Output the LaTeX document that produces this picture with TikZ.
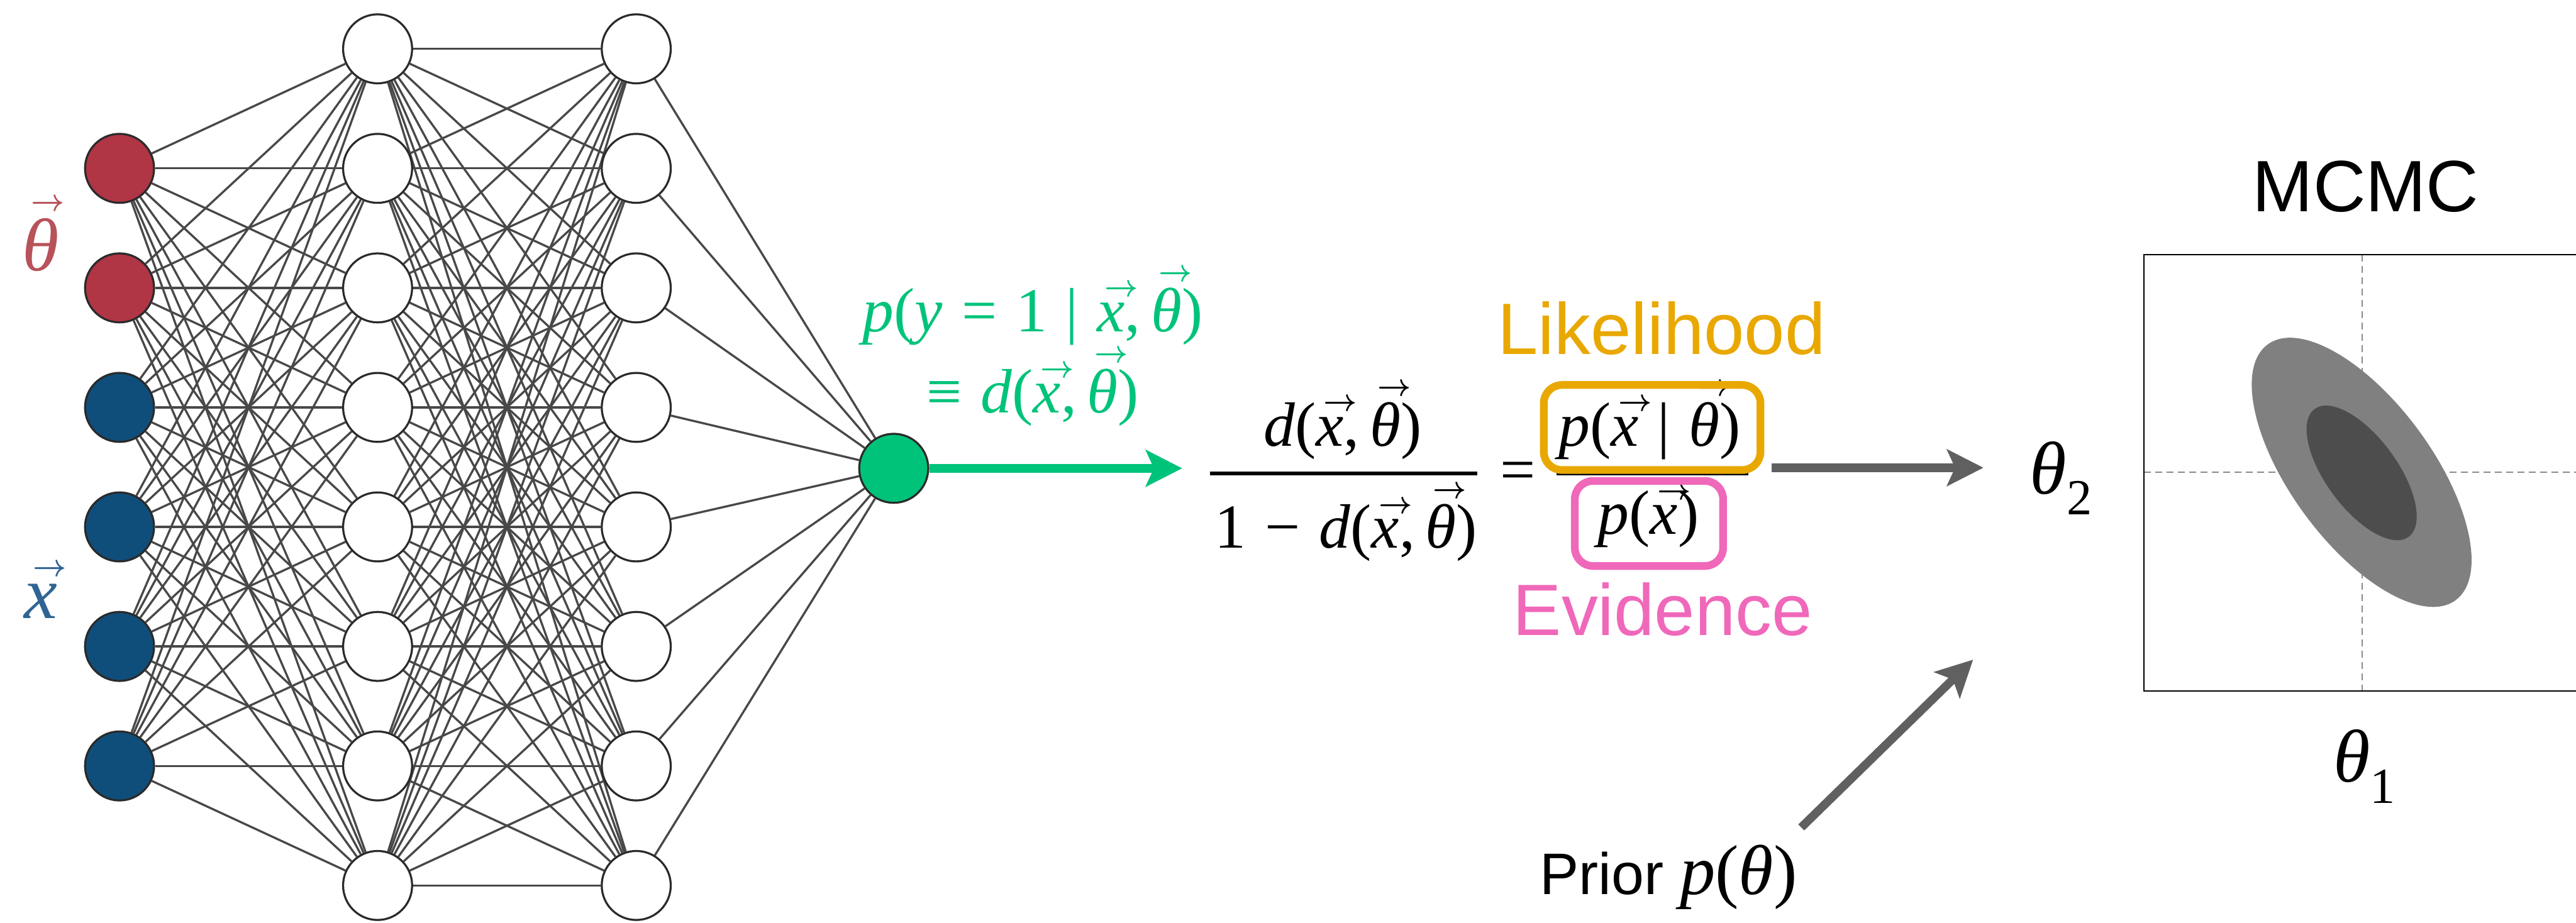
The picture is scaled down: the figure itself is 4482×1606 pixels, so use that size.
\documentclass[tikz,border=0pt]{standalone}
\usepackage{graphicx}
\usepackage{fontspec}
\setmainfont{Liberation Serif}
\newfontfamily\sansf{Liberation Sans}
\usetikzlibrary{arrows.meta,backgrounds}
\newcommand\mi[1]{\textit{#1}}
\newcommand\vv[1]{\setbox0\hbox{\itshape #1}\leavevmode\rlap{\hbox to \wd0{\hfil\kern0.12em\raisebox{\dimexpr\ht0+0.1em\relax}{\scalebox{0.58}[0.62]{\boldmath$\rightarrow$}}\hfil}}\box0}
\newcommand\sps{\hspace{0.3em}}
\newcommand\subdigit[1]{\raisebox{-0.28em}{\fontsize{25}{30}\selectfont #1}}
\definecolor{edgegray}{HTML}{484848}
\definecolor{nodeline}{HTML}{2A2A2A}
\definecolor{thetared}{HTML}{B03545}
\definecolor{xblue}{HTML}{0F4E7B}
\definecolor{thetalab}{HTML}{B8525A}
\definecolor{xlab}{HTML}{2F6494}
\definecolor{outgreen}{HTML}{00C37A}
\definecolor{likeorange}{HTML}{E9A800}
\definecolor{evipink}{HTML}{F068BA}
\definecolor{arrowgray}{HTML}{606060}
\definecolor{outerell}{HTML}{808080}
\definecolor{innerell}{HTML}{4D4D4D}
\definecolor{dashgray}{HTML}{8A8A8A}
\begin{document}
\begin{tikzpicture}[x=0.01cm,y=-0.01cm,
  neuron/.style={circle,draw=nodeline,line width=1pt,minimum size=1.2cm,inner sep=0pt,fill=white},
  edge/.style={draw=edgegray,line width=1.05pt},
  txt/.style={inner sep=0pt,anchor=base},
  mathbig/.style={font=\fontsize{31}{37}\selectfont},
  mathhuge/.style={font=\fontsize{37}{42}\selectfont},
  sanslab/.style={font=\fontsize{36}{42}\selectfont\sansf},
  fracbar/.style={line width=2.1pt,draw=black},
  bigarrow/.style={line width=4.2pt,-{Stealth[length=18pt,width=18pt,inset=4pt]}},
  hlbox/.style={line width=3.8pt,rounded corners=9pt}
]
\useasboundingbox (0,0) rectangle (4482,1606);

% ---------- network nodes ----------
\foreach \k/\c in {1/thetared,2/thetared,3/xblue,4/xblue,5/xblue,6/xblue}
  \node[neuron,fill=\c] (i\k) at (208,{293+208*(\k-1)}) {};
\foreach \k in {1,...,8}
  \node[neuron] (a\k) at (657,{85+208*(\k-1)}) {};
\foreach \k in {1,...,8}
  \node[neuron] (b\k) at (1107,{85+208*(\k-1)}) {};
\node[neuron,fill=outgreen] (o) at (1555,815) {};

% ---------- network edges ----------
\begin{scope}[on background layer]
  \fill[white] (0,0) rectangle (4482,1606);
  \foreach \i in {1,...,6}
    \foreach \j in {1,...,8}
      \draw[edge] (i\i) -- (a\j);
  \foreach \i in {1,...,8}
    \foreach \j in {1,...,8}
      \draw[edge] (a\i) -- (b\j);
  \foreach \i in {1,...,8}
    \draw[edge] (b\i) -- (o);
\end{scope}

% ---------- input labels ----------
\node[txt,mathhuge,text=thetalab] (thlab) at (71,471) {\vv{θ}};
\node[txt,mathhuge,text=xlab] (xlabel) at (71,1076) {\vv{x}};

% ---------- output label ----------
\node[txt,mathbig,text=outgreen] (g1) at (1797,577) {\mi{p}(\mi{y}\sps=\sps1\sps|\sps\vv{x},\,\vv{θ})};
\node[txt,mathbig,text=outgreen] (g2) at (1797,718) {≡\sps\mi{d}(\vv{x},\,\vv{θ})};
\coordinate (gend) at (2057,815);
\draw[bigarrow,draw=outgreen,fill=outgreen] (o) -- (gend);

% ---------- left fraction ----------
\node[txt,mathbig] (lnum) at (2336,776) {\mi{d}(\vv{x},\,\vv{θ})};
\node[txt,mathbig] (lden) at (2342,954) {1\sps−\sps\mi{d}(\vv{x},\,\vv{θ})};
\coordinate (lbarL) at (2105,824);
\coordinate (lbarR) at (2570,824);
\draw[fracbar] (lbarL) -- (lbarR);
\node[mathbig,inner sep=0pt] (eq) at (2641,829) {=};

% ---------- right fraction ----------
\node[txt,mathbig] (rnum) at (2870,776) {\mi{p}(\vv{x}\sps|\sps\vv{θ})};
\node[txt,mathbig] (rden) at (2868,930) {\mi{p}(\vv{x})};
\coordinate (rbarL) at (2708,824);
\coordinate (rbarR) at (3042,824);
\draw[fracbar] (rbarL) -- (rbarR);
\draw[hlbox,draw=likeorange] (2686,670) rectangle (3063,818);
\draw[hlbox,draw=evipink] (2740,837) rectangle (2998,985);
\node[txt,sanslab,text=likeorange] (like) at (2891,617) {Likelihood};
\node[txt,sanslab,text=evipink] (evi) at (2893,1106) {Evidence};

% ---------- arrows to posterior ----------
\coordinate (hstart) at (3082,814);
\node[txt,mathhuge] (th2) at (3586,859) {\mi{θ}\subdigit{2}};
\coordinate (hend) at (3451,814);
\draw[bigarrow,draw=arrowgray,fill=arrowgray] (hstart) -- (hend);
\node[txt] (prior) at (2903,1557) {{\fontsize{29}{35}\selectfont\sansf Prior\hspace{0.28em}}{\fontsize{35}{40}\selectfont\mi{p}(\mi{θ})}};
\coordinate (dstart) at (3134,1440);
\coordinate (dend) at (3433,1148);
\draw[bigarrow,draw=arrowgray,fill=arrowgray] (dstart) -- (dend);

% ---------- MCMC plot ----------
\node[txt,sanslab] (mcmc) at (4116,368) {MCMC};
\draw[dashgray,line width=0.7pt,dash pattern=on 3.4pt off 2.2pt] (4110,443) -- (4110,1203);
\draw[dashgray,line width=0.7pt,dash pattern=on 3.4pt off 2.2pt] (3730,822) -- (4482,822);
\fill[outerell,rotate around={-53.7:(4109,822)}] (4109,822) ellipse [x radius=2.76cm,y radius=1.23cm];
\fill[innerell,rotate around={-53.7:(4109,823)}] (4109,823) ellipse [x radius=1.38cm,y radius=0.62cm];
\draw[black,line width=0.6pt] (4482,443) -- (3730,443) -- (3730,1203) -- (4482,1203);
\node[txt,mathhuge] (th1) at (4114,1361) {\mi{θ}\subdigit{1}};
\end{tikzpicture}
\end{document}
